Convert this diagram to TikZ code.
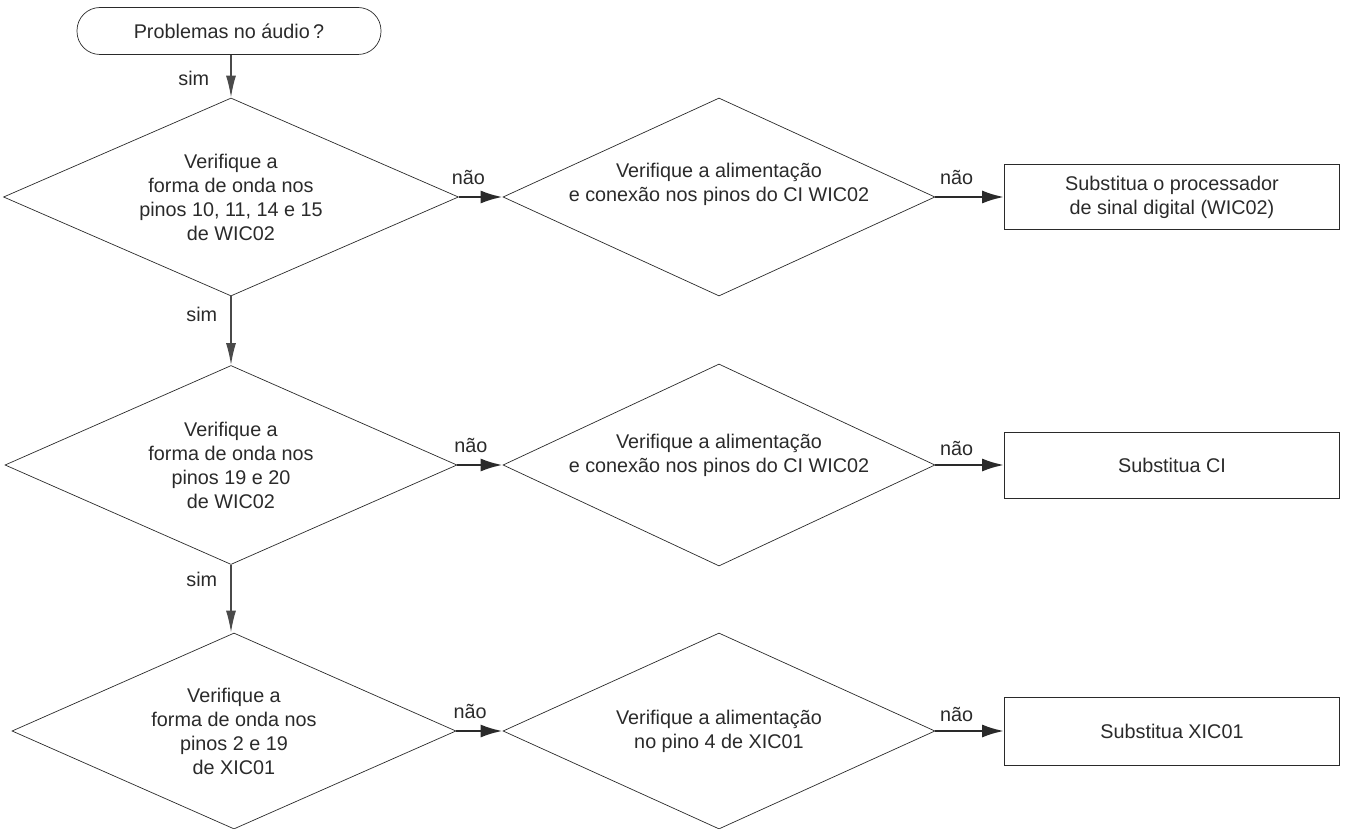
\documentclass[tikz,border=0pt]{standalone}
\usepackage{fontspec}
\setmainfont{Liberation Sans}
\usetikzlibrary{shapes.geometric,arrows.meta}
\definecolor{ink}{HTML}{2A2A2A}
\definecolor{vink}{HTML}{4A4A4A}
\newcommand{\uptext}[2]{\smash{\raisebox{#1}{\begin{tabular}{@{}c@{}}#2\end{tabular}}}}
\tikzset{
  txt/.style={font=\fontsize{19.8}{24}\selectfont, text=ink, align=center},
  dia/.style={txt, diamond, draw=ink, line width=0.7pt, inner sep=0pt, aspect=2.25},
  box/.style={txt, rectangle, draw=ink, line width=0.7pt, minimum width=335pt},
  term/.style={txt, rectangle, rounded corners=23pt, draw=ink, line width=0.7pt, minimum width=304pt, minimum height=47pt},
  harr/.style={draw=ink, line width=2.6pt, -{Latex[length=22pt,width=13pt]}},
  varr/.style={draw=vink, line width=1.6pt, -{Latex[length=22pt,width=10pt]}},
  lab/.style={font=\fontsize{19.8}{24}\selectfont, text=ink, inner sep=1pt},
}
\begin{document}
\begin{tikzpicture}[x=1pt,y=-1pt]
\useasboundingbox (0,0) rectangle (1358,829);
\node[term] (start) at (229,31) {Problemas no áudio\,?};

\node[dia, minimum width=455pt, minimum height=198pt] (d1) at (231,197) {Verifique a\\forma de onda nos\\pinos 10, 11, 14 e 15\\de WIC02};
\node[dia, minimum width=432pt, minimum height=198pt] (d2) at (719,197) {\uptext{7pt}{Verifique a alimentação\\e conexão nos pinos do CI WIC02}};
\node[box, minimum height=65pt] (b1) at (1172,197) {Substitua o processador\\de sinal digital (WIC02)};

\node[dia, minimum width=452pt, minimum height=199pt] (d3) at (231,465) {Verifique a\\forma de onda nos\\pinos 19 e 20\\de WIC02};
\node[dia, minimum width=432pt, minimum height=202pt] (d4) at (719,465) {\uptext{4pt}{Verifique a alimentação\\e conexão nos pinos do CI WIC02}};
\node[box, minimum height=66pt] (b2) at (1172,465) {Substitua CI};

\node[dia, minimum width=444pt, minimum height=196pt] (d5) at (234,731) {Verifique a\\forma de onda nos\\pinos 2 e 19\\de XIC01};
\node[dia, minimum width=432pt, minimum height=196pt] (d6) at (719,731) {Verifique a alimentação\\no pino 4 de XIC01};
\node[box, minimum height=68pt] (b3) at (1172,731) {Substitua XIC01};

\draw[varr] (start.south -| d1.north) -- node[lab, pos=0.55, left=20pt] {sim} (d1.north);
\draw[varr] (d1.south) -- node[lab, pos=0.26, left=12pt] {sim} (d3.north);
\draw[varr] (d3.south) -- node[lab, pos=0.22, left=12pt] {sim} (d5.north -| d3.south);

\draw[harr] (d1.east) -- node[lab, pos=0.22, above=10pt] {não} (d2.west);
\draw[harr] (d2.east) -- node[lab, pos=0.31, above=10pt] {não} (b1.west);
\draw[harr] (d3.east) -- node[lab, pos=0.3, above=10pt] {não} (d4.west);
\draw[harr] (d4.east) -- node[lab, pos=0.31, above=7pt] {não} (b2.west);
\draw[harr] (d5.east) -- node[lab, pos=0.3, above=10pt] {não} (d6.west);
\draw[harr] (d6.east) -- node[lab, pos=0.31, above=7pt] {não} (b3.west);
\end{tikzpicture}
\end{document}
